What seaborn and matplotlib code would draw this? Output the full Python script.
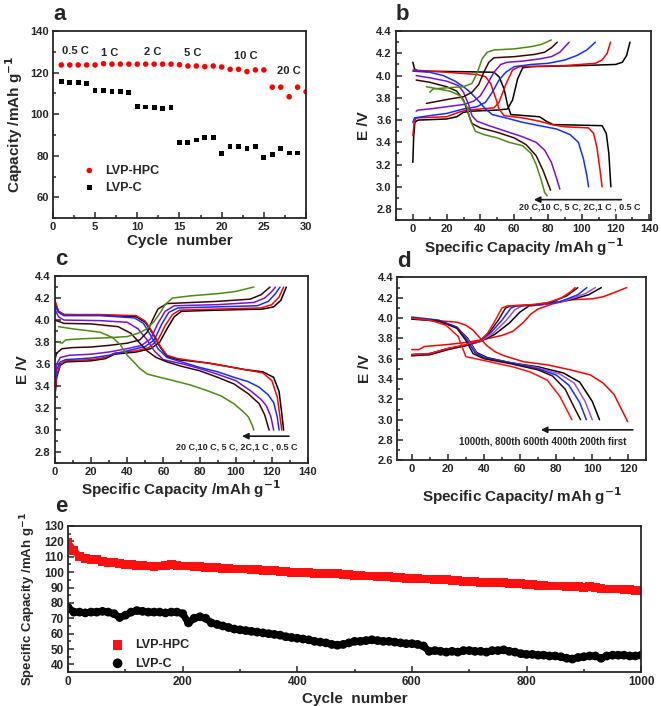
import numpy as np
import pandas as pd
import seaborn as sns
import matplotlib.pyplot as plt
from matplotlib.ticker import MultipleLocator

# ---------------- panel a : rate capability ----------------
a_cycles = list(range(1, 31))
a_hpc = [123.7, 123.7, 123.7, 123.7, 123.7, 124.3, 124.1, 124.1, 124.1, 124.1,
         124.1, 124.1, 124.1, 124.1, 123.8, 123.2, 123.2, 122.9, 123.2, 122.7,
         121.6, 121.6, 120.5, 121.3, 121.3, 113.0, 113.0, 108.4, 113.0, 110.8]
a_c_cycles = list(range(1, 30))
a_c = [115.7, 115.4, 115.2, 114.9, 111.4, 111.4, 111.1, 110.8, 110.5, 103.7,
       103.5, 103.4, 102.8, 103.1, 86.3, 86.3, 87.6, 88.7, 88.7, 81.0,
       84.4, 84.4, 83.6, 84.3, 79.0, 80.6, 83.6, 81.3, 81.3]
a_rate_text = ["0.5 C", "1 C", "2 C", "5 C", "10 C", "20 C"]
a_rate_x = [2.7, 6.7, 11.8, 16.6, 22.8, 27.9]
a_rate_y = [130.5, 129.6, 130.0, 129.3, 128.2, 120.8]

# ---------------- panel b : first cycles at different rates ----------------
B_05C_CHG = [(0, 3.22), (0.5, 3.45), (1.2, 3.58), (3, 3.60), (20, 3.61), (26, 3.63), (30, 3.67),
             (34, 3.68), (50, 3.69), (56, 3.70), (59, 3.78), (62, 3.97), (65, 4.07), (70, 4.08),
             (100, 4.09), (120, 4.10), (124, 4.12), (126.5, 4.18), (128.5, 4.30)]
B_05C_DIS = [(0, 4.12), (1, 4.06), (3, 4.04), (30, 4.035), (48, 4.03), (51, 3.99), (54, 3.88),
             (56, 3.74), (58, 3.65), (75, 3.63), (79, 3.59), (83, 3.56), (112, 3.55), (114.5, 3.48),
             (116, 3.30), (117.2, 3.0)]
B_1C_CHG = [(0, 3.46), (0.8, 3.58), (2, 3.62), (20, 3.63), (27, 3.67), (32, 3.69), (48, 3.71),
            (51, 3.76), (55, 3.92), (59, 4.05), (63, 4.08), (90, 4.09), (108, 4.11), (112, 4.14),
            (115, 4.20), (117, 4.30)]
B_1C_DIS = [(0, 4.05), (20, 4.03), (38, 4.01), (43, 3.99), (46, 3.93), (49, 3.80), (51, 3.70),
            (54, 3.64), (65, 3.62), (75, 3.59), (82, 3.56), (90, 3.54), (104, 3.53), (107, 3.48),
            (109, 3.35), (110.8, 3.15), (112, 3.0)]
B_2C_CHG = [(0, 3.58), (1, 3.62), (10, 3.64), (20, 3.66), (30, 3.70), (38, 3.72), (43, 3.76),
            (47, 3.85), (51, 3.96), (55, 4.03), (60, 4.08), (70, 4.10), (80, 4.11), (90, 4.14),
            (97, 4.18), (103, 4.23), (108, 4.30)]
B_2C_DIS = [(0, 4.04), (10, 4.03), (18, 4.00), (25, 3.95), (30, 3.90), (34, 3.85), (39, 3.77),
            (43, 3.70), (47, 3.65), (55, 3.62), (65, 3.58), (75, 3.55), (85, 3.52), (93, 3.47),
            (98, 3.40), (101, 3.25), (103, 3.10), (104, 3.0)]
B_5C_CHG = [(2, 3.68), (3, 3.69), (10, 3.70), (20, 3.72), (30, 3.74), (36, 3.77), (40, 3.82),
            (44, 3.92), (48, 4.03), (52, 4.10), (56, 4.12), (65, 4.13), (75, 4.15), (82, 4.17),
            (87, 4.21), (92.5, 4.30)]
B_5C_DIS = [(2, 4.00), (10, 3.98), (20, 3.95), (27, 3.91), (30, 3.85), (33, 3.74), (35, 3.64),
            (38, 3.59), (45, 3.55), (55, 3.50), (65, 3.45), (73, 3.40), (78, 3.33), (82, 3.22),
            (85, 3.08), (87, 2.98)]
B_10C_CHG = [(8, 3.75), (15, 3.77), (22, 3.79), (30, 3.81), (35, 3.85), (39, 3.92), (42, 4.03),
             (45, 4.12), (48, 4.16), (60, 4.17), (72, 4.19), (78, 4.21), (82, 4.25), (85.5, 4.30)]
B_10C_DIS = [(2, 3.96), (10, 3.94), (20, 3.90), (26, 3.86), (30, 3.78), (33, 3.65), (35, 3.57),
             (40, 3.53), (50, 3.49), (60, 3.44), (67, 3.38), (73, 3.28), (77, 3.15), (80, 3.03),
             (81.5, 2.97)]
B_20C_CHG = [(10, 3.85), (12, 3.88), (20, 3.89), (30, 3.90), (35, 3.93), (38, 4.02), (41, 4.15),
             (44, 4.21), (48, 4.23), (60, 4.24), (70, 4.26), (76, 4.28), (82, 4.32)]
B_20C_DIS = [(8, 3.90), (15, 3.88), (22, 3.86), (28, 3.82), (32, 3.72), (34, 3.60), (37, 3.50),
             (42, 3.47), (50, 3.44), (57, 3.40), (65, 3.37), (70, 3.30), (73, 3.20), (76, 3.06),
             (78, 2.95), (79.5, 2.92)]

# ---------------- panel c : rates, second set ----------------
C_05C_CHG = [(0, 3.30), (1, 3.48), (3, 3.59), (6, 3.62), (20, 3.63), (28, 3.65), (33, 3.69),
             (45, 3.71), (53, 3.74), (58, 3.80), (62, 3.92), (66, 4.03), (70, 4.08), (90, 4.09),
             (115, 4.10), (121, 4.12), (125, 4.18), (128, 4.30)]
C_05C_DIS = [(0, 4.17), (2, 4.08), (5, 4.05), (25, 4.045), (45, 4.03), (50, 3.98), (54, 3.88),
             (58, 3.76), (62, 3.67), (68, 3.64), (85, 3.61), (95, 3.58), (105, 3.55), (115, 3.53),
             (121, 3.48), (124, 3.35), (125.5, 3.15), (126.5, 3.0)]
C_1C_CHG = [(0, 3.32), (1, 3.50), (3, 3.60), (6, 3.63), (20, 3.64), (28, 3.66), (33, 3.70),
            (45, 3.72), (52, 3.75), (57, 3.82), (61, 3.95), (65, 4.05), (69, 4.09), (90, 4.10),
            (114, 4.11), (120, 4.14), (124, 4.21), (126.5, 4.30)]
C_1C_DIS = [(0, 4.18), (2, 4.08), (5, 4.05), (25, 4.05), (45, 4.04), (50, 3.99), (54, 3.89),
            (58, 3.77), (62, 3.68), (68, 3.65), (84, 3.61), (95, 3.58), (105, 3.55), (115, 3.52),
            (120, 3.45), (123, 3.30), (124.5, 3.12), (125.5, 3.0)]
C_2C_CHG = [(0, 3.38), (1, 3.55), (3, 3.62), (6, 3.64), (20, 3.655), (30, 3.68), (40, 3.72),
            (50, 3.76), (55, 3.82), (59, 3.96), (63, 4.07), (68, 4.11), (90, 4.12), (112, 4.13),
            (118, 4.17), (122, 4.24), (124.5, 4.30)]
C_2C_DIS = [(0, 4.14), (2, 4.07), (5, 4.04), (25, 4.04), (44, 4.02), (49, 3.97), (53, 3.86),
            (57, 3.74), (62, 3.66), (70, 3.62), (80, 3.57), (90, 3.53), (99, 3.48), (107, 3.44),
            (113, 3.39), (118, 3.32), (121, 3.25), (123, 3.12), (124, 3.0)]
C_5C_CHG = [(0, 3.45), (1, 3.60), (3, 3.66), (8, 3.68), (20, 3.69), (30, 3.71), (40, 3.74),
            (48, 3.77), (53, 3.83), (57, 3.97), (61, 4.08), (66, 4.13), (90, 4.14), (110, 4.16),
            (116, 4.20), (120, 4.26), (122, 4.30)]
C_5C_DIS = [(0, 4.10), (2, 4.03), (5, 4.00), (25, 3.995), (40, 3.98), (46, 3.92), (51, 3.82),
            (55, 3.72), (60, 3.64), (71, 3.60), (80, 3.56), (89.5, 3.51), (100, 3.45), (108, 3.36),
            (114, 3.28), (117, 3.22), (119.5, 3.12), (121, 3.0)]
C_10C_CHG = [(0, 3.64), (1, 3.70), (4, 3.74), (10, 3.75), (20, 3.755), (30, 3.77), (40, 3.79),
             (47, 3.82), (51, 3.89), (54, 4.00), (57, 4.10), (62, 4.15), (90, 4.17), (108, 4.19),
             (114, 4.23), (119, 4.30)]
C_10C_DIS = [(0, 4.00), (5, 3.97), (20, 3.965), (35, 3.94), (42, 3.88), (47, 3.79), (51, 3.72),
             (56, 3.66), (62, 3.62), (70, 3.58), (80, 3.54), (90, 3.48), (99, 3.42), (107, 3.33),
             (113, 3.24), (116, 3.14), (118.5, 3.0)]
C_20C_CHG = [(2, 3.80), (4, 3.79), (6, 3.82), (15, 3.83), (30, 3.84), (40, 3.85), (46, 3.88),
             (51, 3.92), (55, 3.99), (58, 4.06), (61, 4.14), (65, 4.20), (75, 4.22), (90, 4.24),
             (100, 4.26), (110, 4.30)]
C_20C_DIS = [(2, 3.94), (10, 3.92), (25, 3.89), (32, 3.84), (36, 3.78), (40, 3.68), (43, 3.63),
             (47, 3.56), (51, 3.51), (58, 3.48), (65.5, 3.45), (75, 3.41), (84, 3.36), (92, 3.31),
             (99, 3.24), (104, 3.17), (107, 3.12), (109, 3.05), (110, 3.0)]

# ---------------- panel d : selected cycles ----------------
D_1ST_CHG = [(0, 3.69), (4, 3.69), (7, 3.72), (20, 3.74), (30, 3.76), (40, 3.79), (50, 3.83),
             (56, 3.87), (62, 3.96), (66, 4.04), (70, 4.09), (78, 4.14), (88, 4.18), (100, 4.19),
             (106, 4.21), (112, 4.25), (119, 4.30)]
D_1ST_DIS = [(0, 4.00), (10, 3.98), (25, 3.96), (30, 3.93), (34, 3.88), (38, 3.80), (41.5, 3.73),
             (46, 3.67), (51, 3.63), (62, 3.57), (75, 3.54), (88, 3.49), (99, 3.44), (106, 3.36),
             (112, 3.25), (116.5, 3.09), (119.6, 2.98)]
D_200_CHG = [(0, 3.64), (10, 3.65), (20, 3.70), (30, 3.73), (38, 3.77), (46, 3.84), (54, 3.95),
             (60, 4.06), (65, 4.12), (75, 4.14), (88, 4.18), (98, 4.23), (105, 4.30)]
D_200_DIS = [(0, 3.99), (15, 3.97), (25, 3.91), (31, 3.80), (36, 3.66), (42, 3.61), (55, 3.56),
             (70, 3.52), (84, 3.46), (93, 3.37), (100, 3.18), (104, 3.0)]
D_400_CHG = [(0, 3.63), (10, 3.64), (20, 3.69), (30, 3.73), (38, 3.77), (45, 3.85), (52, 3.97),
             (57, 4.08), (61, 4.12), (72, 4.13), (85, 4.17), (96, 4.24), (101.7, 4.30)]
D_400_DIS = [(0, 4.00), (15, 3.97), (25, 3.91), (31, 3.79), (36, 3.65), (42, 3.60), (55, 3.56),
             (70, 3.51), (82, 3.45), (90, 3.36), (96, 3.18), (100, 3.0)]
D_600_CHG = [(0, 3.64), (10, 3.65), (20, 3.70), (30, 3.73), (38, 3.78), (44, 3.86), (50, 3.98),
             (55, 4.10), (58, 4.12), (70, 4.13), (82, 4.16), (92, 4.23), (97, 4.30)]
D_600_DIS = [(0, 4.01), (15, 3.98), (25, 3.91), (30, 3.80), (35, 3.66), (40, 3.61), (55, 3.56),
             (70, 3.50), (80, 3.44), (87, 3.34), (93, 3.17), (96.7, 3.0)]
D_800_CHG = [(0, 3.63), (10, 3.64), (20, 3.69), (30, 3.73), (38, 3.78), (43, 3.86), (48, 3.98),
             (52, 4.10), (55, 4.12), (68, 4.13), (78, 4.16), (86, 4.22), (92, 4.30)]
D_800_DIS = [(0, 4.00), (15, 3.97), (25, 3.90), (30, 3.78), (34, 3.65), (40, 3.60), (55, 3.55),
             (70, 3.49), (78, 3.43), (85, 3.30), (90, 3.12), (93.5, 3.0)]
D_1000_CHG = [(0, 3.64), (10, 3.65), (20, 3.70), (30, 3.74), (38, 3.78), (42, 3.85), (46, 3.97),
              (50, 4.10), (53, 4.12), (65, 4.13), (75, 4.15), (83, 4.20), (88, 4.26), (90.5, 4.30)]
D_1000_DIS = [(0, 4.00), (10, 3.98), (19, 3.93), (25.7, 3.82), (28.5, 3.69), (30, 3.62),
              (38, 3.59), (56, 3.52), (65.5, 3.47), (75, 3.39), (82, 3.23), (88.7, 3.0)]

# ---------------- panel e : long cycling ----------------
e_cycles = np.arange(0, 1001, 10)
e_hpc = [119, 114, 110, 109, 108, 108, 107, 106.5, 106, 105.5,
         105, 105, 104.5, 104.5, 104, 103.5, 104, 104.5, 105, 104.5,
         104, 104, 103.5, 103.5, 103, 103, 103, 102.5, 102.5, 102,
         102, 102, 101.5, 101.5, 101, 101, 101, 100.5, 100.5, 100,
         100, 100, 99.5, 99, 99, 99, 99, 99, 98.5, 98.5,
         98, 98, 97.5, 97.5, 97, 97, 97, 96.5, 96.5, 96,
         96, 96, 95.5, 95.5, 95, 95, 95, 94.5, 94.5, 94,
         94, 94, 93.5, 93.5, 93, 93, 93, 92.5, 92.5, 92.5,
         92, 92, 91.5, 91.5, 91, 91, 91, 90.5, 90.5, 90.5,
         90, 90.5, 90, 89.5, 89, 89, 89, 88.5, 88.5, 88, 88]
e_c = [77, 74, 74, 73.5, 74, 74, 74.5, 74, 73, 70.5,
       72, 74, 75, 74.5, 74, 74, 74, 73.5, 74, 74,
       73, 67, 70, 71, 70, 67, 66, 65, 64, 63,
       62.5, 62, 61.5, 61, 60.5, 60, 59.5, 59, 58, 57.5,
       57, 56.5, 56, 55, 54.5, 54, 53, 52.5, 53, 54,
       55, 55, 55.5, 56, 55.5, 55, 55, 54.5, 54, 53.5,
       53.5, 53, 52, 48.5, 49, 48.5, 48, 48.5, 48, 49,
       49, 48.5, 48.5, 48, 49, 49, 49.5, 48.5, 48, 47,
       46.5, 46.5, 46, 46, 45.5, 45.5, 45, 44, 43.5, 44.5,
       45, 45.5, 45.5, 44, 45.5, 46, 46, 46, 45.5, 45.5, 46]

rate_names = ["0.5 C", "1 C", "2 C", "5 C", "10 C", "20 C"]
rate_colors = ["#000000", "#ff0000", "#1030ff", "#7a10d8", "#3a0808", "#4e8a14"]
cycle_names = ["first", "200th", "400th", "600th", "800th", "1000th"]
cycle_colors = ["#ff0000", "#000000", "#a84cd0", "#1030ff", "#3a0808", "#ff1010"]


def curves_to_df(names, chg, dis):
    rows = []
    for name, c, d in zip(names, chg, dis):
        for branch, pts in (("chg", c), ("dis", d)):
            for x, y in pts:
                rows.append({"cap": x, "E": y, "set": name, "unit": name + branch})
    return pd.DataFrame(rows)


b_df = curves_to_df(rate_names,
                    [B_05C_CHG, B_1C_CHG, B_2C_CHG, B_5C_CHG, B_10C_CHG, B_20C_CHG],
                    [B_05C_DIS, B_1C_DIS, B_2C_DIS, B_5C_DIS, B_10C_DIS, B_20C_DIS])
c_df = curves_to_df(rate_names,
                    [C_05C_CHG, C_1C_CHG, C_2C_CHG, C_5C_CHG, C_10C_CHG, C_20C_CHG],
                    [C_05C_DIS, C_1C_DIS, C_2C_DIS, C_5C_DIS, C_10C_DIS, C_20C_DIS])
d_df = curves_to_df(cycle_names,
                    [D_1ST_CHG, D_200_CHG, D_400_CHG, D_600_CHG, D_800_CHG, D_1000_CHG],
                    [D_1ST_DIS, D_200_DIS, D_400_DIS, D_600_DIS, D_800_DIS, D_1000_DIS])

sns.set_theme(style="ticks")
plt.rcParams["font.family"] = ["Liberation Sans", "DejaVu Sans"]
plt.rcParams["font.weight"] = "bold"
plt.rcParams["axes.labelweight"] = "bold"
plt.rcParams["mathtext.default"] = "bf"
plt.rcParams["axes.linewidth"] = 1.3

fig = plt.figure(figsize=(6.61, 7.06), dpi=100)
ax_a = fig.add_axes([0.080, 0.691, 0.383, 0.265])
ax_b = fig.add_axes([0.599, 0.688, 0.386, 0.268])
ax_c = fig.add_axes([0.083, 0.344, 0.383, 0.265])
ax_d = fig.add_axes([0.601, 0.348, 0.377, 0.259])
ax_e = fig.add_axes([0.103, 0.048, 0.867, 0.207])


def style_axis(ax, xmaj, xmin, ymaj, ymin, fs=8):
    ax.xaxis.set_major_locator(MultipleLocator(xmaj))
    ax.xaxis.set_minor_locator(MultipleLocator(xmin))
    ax.yaxis.set_major_locator(MultipleLocator(ymaj))
    ax.yaxis.set_minor_locator(MultipleLocator(ymin))
    ax.tick_params(which="both", direction="in", top=False, right=False, width=1.1,
                   labelsize=fs, pad=3)
    ax.tick_params(which="major", length=4)
    ax.tick_params(which="minor", length=2)
    for lab in ax.get_xticklabels() + ax.get_yticklabels():
        lab.set_fontweight("bold")


# panel a
sns.scatterplot(x=a_cycles, y=a_hpc, ax=ax_a, color="#ff0000", marker="o", s=16,
                edgecolor="none", label="LVP-HPC")
sns.scatterplot(x=a_c_cycles, y=a_c, ax=ax_a, color="#000000", marker="s", s=12,
                edgecolor="none", label="LVP-C")
for t, x, y in zip(a_rate_text, a_rate_x, a_rate_y):
    ax_a.text(x, y, t, ha="center", va="center", fontsize=8, fontweight="bold")
ax_a.set_xlim(0, 30)
ax_a.set_ylim(50, 140)
style_axis(ax_a, 5, 2.5, 20, 10)
ax_a.set_xlabel("Cycle  number", fontsize=11, labelpad=1)
ax_a.set_ylabel("Capacity /mAh g$^{-1}$", fontsize=11, labelpad=4)
ax_a.legend(loc="lower left", bbox_to_anchor=(0.05, 0.07), frameon=False, fontsize=9,
            handletextpad=0.3, labelspacing=0.4, markerscale=1.0)

# panels b, c, d
for ax, df, names, cols in ((ax_b, b_df, rate_names, rate_colors),
                            (ax_c, c_df, rate_names, rate_colors),
                            (ax_d, d_df, cycle_names, cycle_colors)):
    sns.lineplot(data=df, x="cap", y="E", hue="set", hue_order=names,
                 palette=dict(zip(names, cols)), units="unit", estimator=None,
                 sort=False, lw=1.1, legend=False, ax=ax)
    ax.set_ylabel("E /V", fontsize=11, labelpad=4)

ax_b.set_xlim(-10, 141)
ax_b.set_ylim(2.7, 4.4)
style_axis(ax_b, 20, 10, 0.2, 0.1)
ax_b.set_xlabel("Specific Capacity /mAh g$^{-1}$", fontsize=11, labelpad=1)
ax_b.annotate("", xy=(70, 2.885), xytext=(125, 2.885),
              arrowprops=dict(arrowstyle="-|>", color="k", lw=1.2, mutation_scale=9))
ax_b.text(98.5, 2.815, "20 C,10 C, 5 C, 2C,1 C , 0.5 C", ha="center", va="center",
          fontsize=6.5, fontweight="bold")

ax_c.set_xlim(0, 140)
ax_c.set_ylim(2.7, 4.4)
style_axis(ax_c, 20, 10, 0.2, 0.1)
ax_c.set_xlabel("Specific Capacity /mAh g$^{-1}$", fontsize=11, labelpad=1)
ax_c.annotate("", xy=(102, 2.945), xytext=(131, 2.945),
              arrowprops=dict(arrowstyle="-|>", color="k", lw=1.2, mutation_scale=9))
ax_c.text(100.5, 2.845, "20 C,10 C, 5 C, 2C,1 C , 0.5 C", ha="center", va="center",
          fontsize=6.5, fontweight="bold")

ax_d.set_xlim(-8, 130)
ax_d.set_ylim(2.6, 4.4)
style_axis(ax_d, 20, 10, 0.2, 0.1)
ax_d.set_xlabel("Specific Capacity/ mAh g$^{-1}$", fontsize=11, labelpad=8)
ax_d.annotate("", xy=(70, 2.90), xytext=(124, 2.90),
              arrowprops=dict(arrowstyle="-|>", color="k", lw=1.2, mutation_scale=9))
ax_d.text(72.5, 2.79, "1000th, 800th 600th 400th 200th first", ha="center", va="center",
          fontsize=7, fontweight="bold")

# panel e
sns.lineplot(x=e_cycles, y=e_hpc, ax=ax_e, color="#ff1010", lw=5, legend=False)
sns.lineplot(x=e_cycles, y=e_c, ax=ax_e, color="#000000", lw=5, legend=False)
sns.scatterplot(x=e_cycles, y=e_hpc, ax=ax_e, color="#ff1010", marker="s", s=40,
                edgecolor="none", label="LVP-HPC")
sns.scatterplot(x=e_cycles, y=e_c, ax=ax_e, color="#000000", marker="o", s=40,
                edgecolor="none", label="LVP-C")
ax_e.set_xlim(0, 1000)
ax_e.set_ylim(35, 130)
style_axis(ax_e, 200, 100, 10, 5, fs=8.5)
ax_e.set_xlabel("Cycle  number", fontsize=11, labelpad=3)
ax_e.set_ylabel("Specific Capacity /mAh g$^{-1}$", fontsize=9.5, labelpad=4)
ax_e.legend(loc="lower left", bbox_to_anchor=(0.045, -0.06), frameon=False, fontsize=9,
            handletextpad=0.4, labelspacing=0.5, markerscale=1.1)

# panel letters
for ax, letter, lx, ly in ((ax_a, "a", 0.0, 1.03), (ax_b, "b", 0.0, 1.03),
                           (ax_c, "c", 0.0, 1.03), (ax_d, "d", 0.0, 1.03),
                           (ax_e, "e", -0.022, 1.06)):
    ax.text(lx, ly, letter, transform=ax.transAxes,
            fontsize=16, fontweight="bold", ha="left", va="bottom")

fig.savefig("out.png", dpi=100)
